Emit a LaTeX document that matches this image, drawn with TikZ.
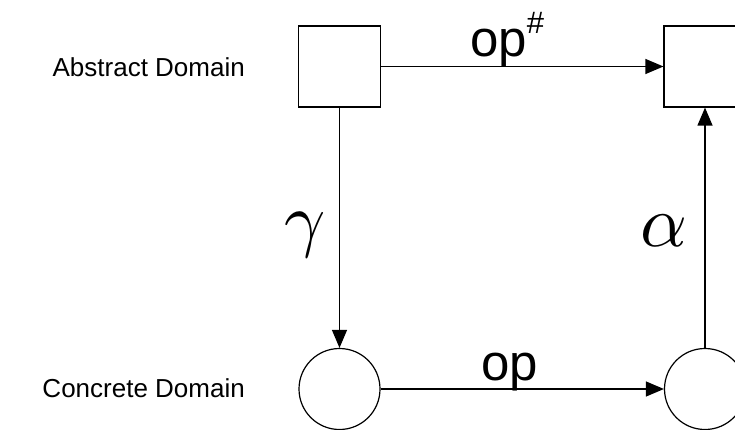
\documentclass[tikz,border=0pt]{standalone}
\usepackage{fontspec}
\setmainfont{Liberation Sans}
\usetikzlibrary{arrows.meta}
\tikzset{
  absbox/.style={draw, line width=1.2pt, minimum width=82pt, minimum height=81pt, inner sep=0pt},
  concirc/.style={draw, circle, line width=1.2pt, minimum size=81pt, inner sep=0pt},
  maparrow/.style={line width=1.2pt, -{Triangle[length=18pt,width=15pt]}},
  domlabel/.style={anchor=base east, inner sep=0pt, font=\fontsize{26}{26}\selectfont},
  oplabel/.style={anchor=base west, inner sep=0pt, font=\fontsize{51}{51}\selectfont},
  greeklabel/.style={inner sep=0pt}
}
\begin{document}
\begin{tikzpicture}[x=1pt,y=-1pt]
\useasboundingbox (0,0) rectangle (735,430);
\node[absbox] (a1) at (339.5,66.5) {};
\node[absbox] (a2) at (705,66.5) {};
\node[concirc] (c1) at (339.5,389) {};
\node[concirc] (c2) at (705,389) {};
\draw[maparrow] (a1.east) -- (a2.west);
\draw[maparrow] (c1.east) -- (c2.west);
\draw[maparrow] (a1.south) -- (c1.north);
\draw[maparrow] (c2.north) -- (a2.south);
\node[oplabel] (opa) at (470,57) {op\raisebox{23pt}{\fontsize{31}{31}\selectfont\#}};
\node[oplabel] (opc) at (481,380) {op};
\node[greeklabel] (gam) at (305,234.5) {\scalebox{7.2}{$\gamma$}};
\node[greeklabel] (alp) at (663.5,231) {\scalebox{7.3}{$\alpha$}};
\node[domlabel] (ad) at (245,77) {Abstract Domain};
\node[domlabel] (cd) at (245,397) {Concrete Domain};
\end{tikzpicture}
\end{document}
